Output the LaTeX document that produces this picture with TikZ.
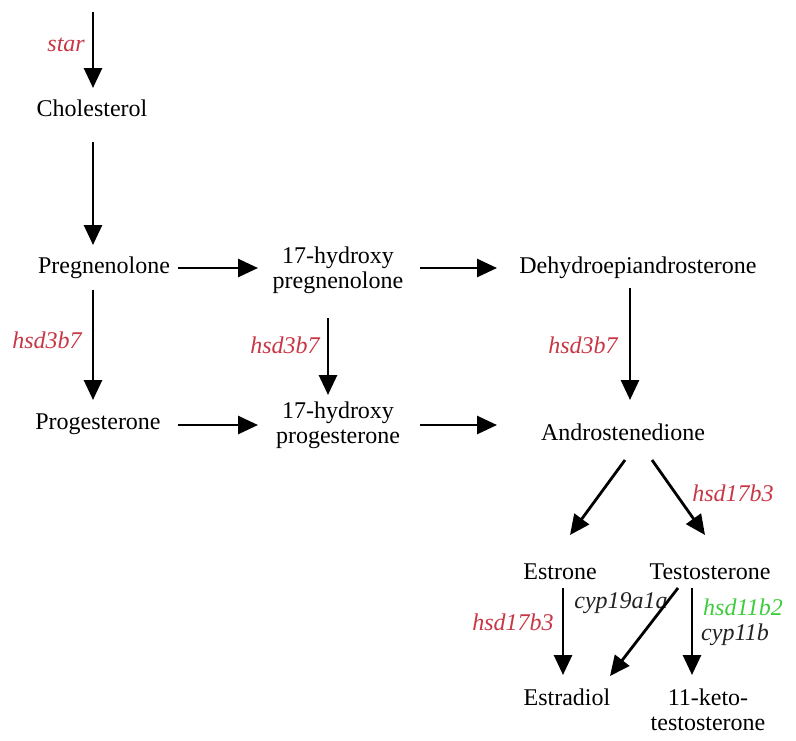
\documentclass[tikz,border=0pt]{standalone}
\usepackage{fontspec}
\setmainfont{Liberation Serif}
\usetikzlibrary{arrows.meta}
\definecolor{lblred}{RGB}{200,55,70}
\definecolor{lblgreen}{RGB}{60,205,60}
\definecolor{lbldark}{RGB}{35,35,35}
\tikzset{
  chem/.style={font=\fontsize{24}{25}\selectfont, inner sep=0pt, align=center, text=black},
  enz/.style={font=\fontsize{24}{25}\selectfont\itshape, inner sep=0pt, text=lblred},
  arr/.style={line width=2.8pt, -{Triangle[length=20pt,width=18pt]}}
}
\begin{document}
\begin{tikzpicture}[x=1pt,y=-1pt]
\path[fill=white] (0,0) rectangle (796,740);
% compounds
\node[chem] (chol) at (92,108) {Cholesterol};
\node[chem] (preg) at (104,268) {Pregnenolone};
\node[chem] (ohpreg) at (338,270) {17-hydroxy\\pregnenolone};
\node[chem] (dhea) at (638,268) {Dehydroepiandrosterone};
\node[chem] (prog) at (98,424) {Progesterone};
\node[chem] (ohprog) at (338,425) {17-hydroxy\\progesterone};
\node[chem] (andro) at (623,432) {Androstenedione};
\node[chem] (estrone) at (560,572) {Estrone};
\node[chem] (testo) at (710,572) {Testosterone};
\node[chem] (estradiol) at (567,697) {Estradiol};
\node[chem] (keto) at (708,710) {11-keto-\\testosterone};
\coordinate (top) at (93,12);
% enzymes
\node[enz, anchor=east] (star) at (85,45) {star};
\node[enz] (e1) at (47,340) {hsd3b7};
\node[enz] (e2) at (285,345) {hsd3b7};
\node[enz] (e3) at (583,345) {hsd3b7};
\node[enz] (e4) at (733,493) {hsd17b3};
\node[enz] (e5) at (513,622) {hsd17b3};
\node[enz, text=lbldark] (e6) at (621,603) {cyp19a1a};
\node[enz, text=lblgreen] (e7) at (743,607) {hsd11b2};
\node[enz, text=lbldark] (e8) at (735,635) {cyp11b};
% arrows
\draw[arr] (top) -- ([shift={(1,-20)}]chol.center);
\draw[arr] ([shift={(1,34)}]chol.center) -- ([shift={(-11,-23)}]preg.center);
\draw[arr] ([shift={(74,0)}]preg.center) -- ([shift={(-80,-2)}]ohpreg.center);
\draw[arr] ([shift={(82,-2)}]ohpreg.center) -- ([shift={(-141,0)}]dhea.center);
\draw[arr] ([shift={(-11,22)}]preg.center) -- ([shift={(-5,-24)}]prog.center);
\draw[arr] ([shift={(-10,48)}]ohpreg.center) -- ([shift={(-10,-30)}]ohprog.center);
\draw[arr] ([shift={(-8,20)}]dhea.center) -- ([shift={(7,-32)}]andro.center);
\draw[arr] ([shift={(80,1)}]prog.center) -- ([shift={(-80,0)}]ohprog.center);
\draw[arr] ([shift={(82,0)}]ohprog.center) -- ([shift={(-126,-7)}]andro.center);
\draw[arr] ([shift={(2,28)}]andro.center) -- ([shift={(10,-37)}]estrone.center);
\draw[arr] ([shift={(29,28)}]andro.center) -- ([shift={(-5,-37)}]testo.center);
\draw[arr] ([shift={(3,16)}]estrone.center) -- ([shift={(-4,-22)}]estradiol.center);
\draw[arr] ([shift={(-32,16)}]testo.center) -- ([shift={(43,-21)}]estradiol.center);
\draw[arr] ([shift={(-18,16)}]testo.center) -- ([shift={(-16,-35)}]keto.center);
\end{tikzpicture}
\end{document}
